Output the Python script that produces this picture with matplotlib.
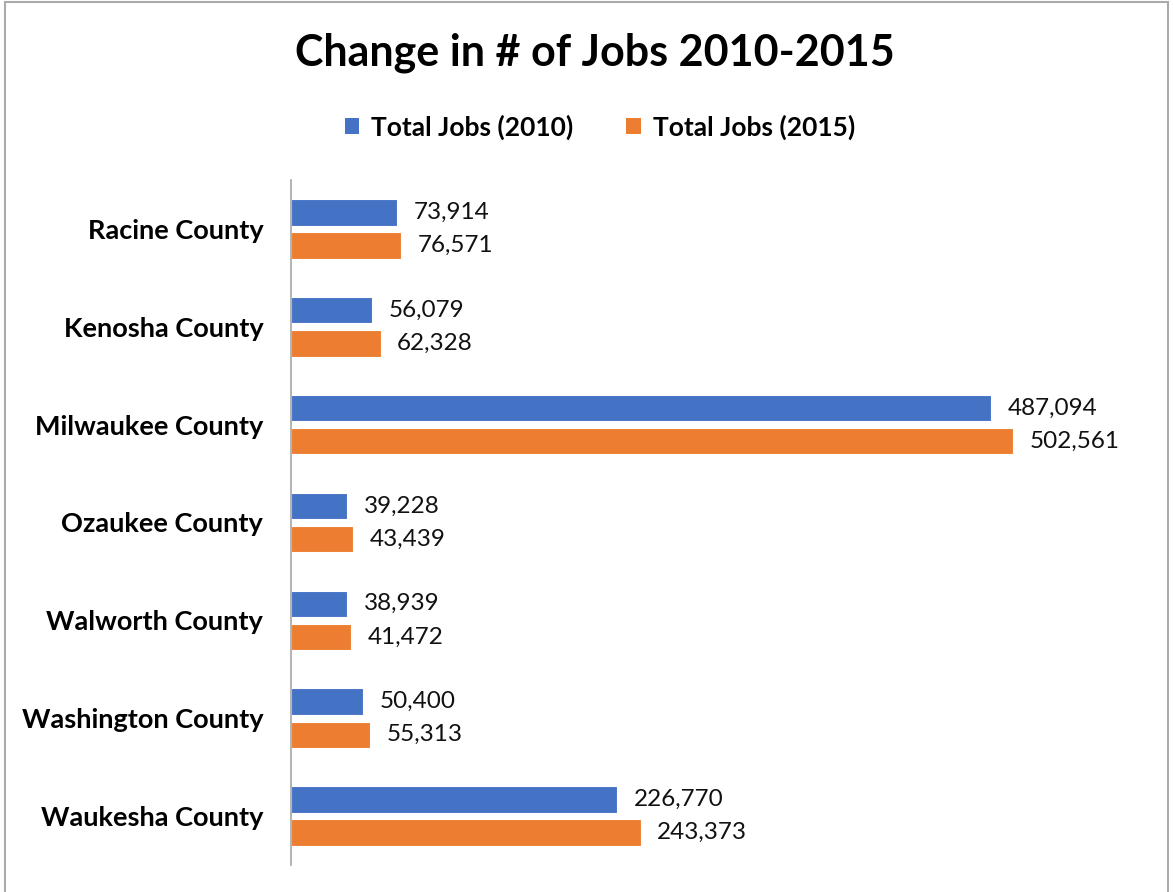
import matplotlib
matplotlib.use("Agg")
import matplotlib.pyplot as plt
from matplotlib.patches import Patch, Rectangle
import numpy as np

plt.rcParams['font.family'] = ['Lato', 'DejaVu Sans']

counties = ["Racine County", "Kenosha County", "Milwaukee County", "Ozaukee County",
            "Walworth County", "Washington County", "Waukesha County"]
jobs_2010 = [73914, 56079, 487094, 39228, 38939, 50400, 226770]
jobs_2015 = [76571, 62328, 502561, 43439, 41472, 55313, 243373]
series_names = ["Total Jobs (2010)", "Total Jobs (2015)"]
title = "Change in # of Jobs 2010-2015"

blue = "#4472C4"
orange = "#ED7D31"

W, H = 1173, 892
fig = plt.figure(figsize=(W / 100, H / 100), dpi=100)

# chart frame
fig.patches.append(Rectangle((5 / W, -0.01), (1168 - 5) / W, 1 - 2 / H + 0.01,
                             transform=fig.transFigure, fill=False,
                             edgecolor="#ABABAB", linewidth=1.5))

ax = fig.add_axes([291 / W, 1 - 865 / H, (1153 - 291) / W, (865 - 180) / H])

y = np.arange(len(counties))
off = 0.169
h = 0.27
b1 = ax.barh(y - off, jobs_2010, height=h, color=blue, edgecolor="white", linewidth=0.8)
b2 = ax.barh(y + off, jobs_2015, height=h, color=orange, edgecolor="white", linewidth=0.8)

for bars in (b1, b2):
    for rect in bars:
        v = rect.get_width()
        ax.annotate(f"{v:,.0f}", xy=(v, rect.get_y() + rect.get_height() / 2),
                    xytext=(12, 0), textcoords="offset points",
                    ha="left", va="center", fontsize=17.5, color="#111111")

ax.set_xlim(0, 600000)
ax.set_ylim(6.5, -0.5)
ax.set_yticks(y)
ax.set_yticklabels(counties, fontsize=19.5, fontweight="bold")
ax.tick_params(axis="y", length=0, pad=20)
ax.set_xticks([])
for s in ("top", "right", "bottom"):
    ax.spines[s].set_visible(False)
ax.spines["left"].set_color("#A6A6A6")
ax.spines["left"].set_linewidth(1.2)

fig.text(595 / W, 1 - 53 / H, title, ha="center", va="center",
         fontsize=31, fontweight="bold")

handles = [Patch(facecolor=blue), Patch(facecolor=orange)]
fig.legend(handles, series_names, loc="center", bbox_to_anchor=(600 / W, 1 - 127 / H),
           ncol=2, frameon=False, handlelength=0.55, handleheight=0.55,
           handletextpad=0.45, columnspacing=2.0,
           prop={"size": 19, "weight": "bold"})

fig.savefig("out.png", dpi=100)
